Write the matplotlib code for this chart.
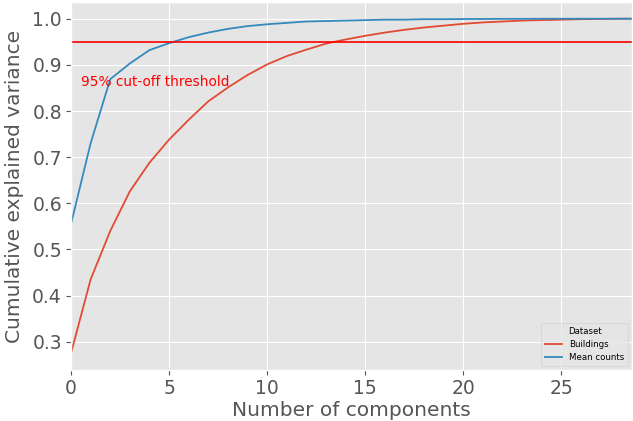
import matplotlib
matplotlib.use("Agg")
import matplotlib.pyplot as plt
import numpy as np

plt.style.use("ggplot")

components = list(range(30))
buildings = [0.275, 0.435, 0.54, 0.626, 0.688, 0.738, 0.781, 0.821, 0.851, 0.878,
             0.901, 0.919, 0.933, 0.946, 0.955, 0.963, 0.970, 0.976, 0.981, 0.985,
             0.989, 0.992, 0.994, 0.996, 0.997, 0.998, 0.999, 0.9995, 1.0, 1.0]
mean_counts = [0.555, 0.73, 0.869, 0.903, 0.932, 0.947, 0.960, 0.970, 0.978, 0.984,
               0.988, 0.991, 0.994, 0.995, 0.996, 0.997, 0.998, 0.998, 0.999, 0.999,
               0.9993, 0.9995, 0.9997, 0.9998, 0.9999, 1.0, 1.0, 1.0, 1.0, 1.0]
threshold = 0.95
series_names = ["Buildings", "Mean counts"]

fig = plt.figure(figsize=(6.33, 4.21), dpi=100)
ax = fig.add_axes([71/633, 1 - 370/421, (632-71)/633, (370-2)/421])
ax.plot(components, buildings, label=series_names[0], color="#E24A33", lw=1.3)
ax.plot(components, mean_counts, label=series_names[1], color="#348ABD", lw=1.3)
ax.axhline(threshold, color="red", lw=1.2)
ax.text(0.5, 0.855, "95% cut-off threshold", color="red", fontsize=9.8)
ax.set_xlim(0, 28.6)
ax.set_xlabel("Number of components", fontsize=14.5, labelpad=2)
ax.set_ylabel("Cumulative explained variance", fontsize=14.5, labelpad=6)
ax.tick_params(labelsize=13.5, pad=3)
ax.legend(title="Dataset", loc="lower right", fontsize=6.2, title_fontsize=6.2)
fig.savefig("out.png", dpi=100)
